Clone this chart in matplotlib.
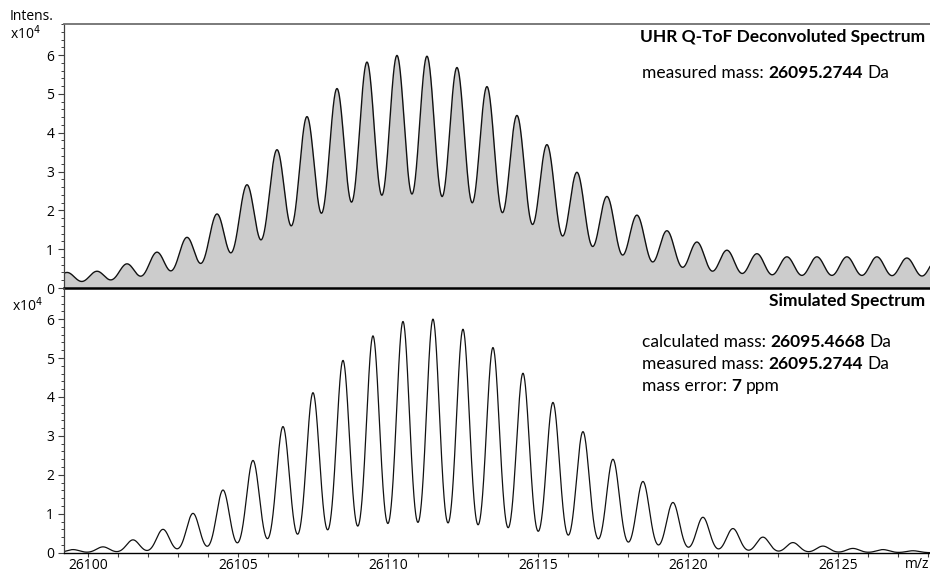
import numpy as np
import matplotlib.pyplot as plt

# measured (deconvoluted) isotope peaks, intensity in x10^4
meas_mz = [26099.3, 26100.3, 26101.3, 26102.3, 26103.3, 26104.3, 26105.3, 26106.3,
           26107.3, 26108.3, 26109.3, 26110.3, 26111.3, 26112.3, 26113.3, 26114.3,
           26115.3, 26116.3, 26117.3, 26118.3, 26119.3, 26120.3, 26121.3, 26122.3,
           26123.3, 26124.3, 26125.3, 26126.3, 26127.3, 26128.3]
meas_int = [0.40, 0.43, 0.62, 0.92, 1.30, 1.90, 2.65, 3.55, 4.40, 5.12, 5.80, 5.97,
            5.95, 5.66, 5.17, 4.43, 3.68, 2.97, 2.35, 1.87, 1.47, 1.18, 0.97, 0.88,
            0.80, 0.80, 0.80, 0.80, 0.77, 0.75]

# simulated isotope pattern
sim_mz = [26099.5, 26100.5, 26101.5, 26102.5, 26103.5, 26104.5, 26105.5, 26106.5,
          26107.5, 26108.5, 26109.5, 26110.5, 26111.5, 26112.5, 26113.5, 26114.5,
          26115.5, 26116.5, 26117.5, 26118.5, 26119.5, 26120.5, 26121.5, 26122.5,
          26123.5, 26124.5, 26125.5, 26126.5, 26127.5]
sim_int = [0.08, 0.15, 0.33, 0.60, 1.01, 1.61, 2.37, 3.24, 4.11, 4.94, 5.57, 5.94,
           6.00, 5.74, 5.27, 4.61, 3.86, 3.11, 2.40, 1.83, 1.29, 0.91, 0.62, 0.40,
           0.26, 0.17, 0.11, 0.08, 0.05]

x_ticks = [26100, 26105, 26110, 26115, 26120, 26125]
y_ticks = [0, 1, 2, 3, 4, 5, 6]

W, H = 930, 572
xmin, xmax = 26099.2, 26128.07


def profile(x, centers, heights, sigma):
    # sum of gaussian peak shapes
    c = np.array(centers)[:, None]
    h = np.array(heights)[:, None]
    return (h * np.exp(-0.5 * ((x[None, :] - c) / sigma) ** 2)).sum(axis=0)


x = np.linspace(xmin, xmax, 4000)
y_meas = profile(x, meas_mz, meas_int, 0.28)
y_sim = profile(x, sim_mz, sim_int, 0.214)

tick_font = 'Open Sans'
txt_font = 'Lato'
tick_size = 10

fig = plt.figure(figsize=(W / 100, H / 100), dpi=100)
ax1 = fig.add_axes([64 / W, 1 - 288 / H, (W - 64) / W, (288 - 24) / H])
ax2 = fig.add_axes([64 / W, 1 - 552.7 / H, (W - 64) / W, (552.7 - 288) / H])
ax2.patch.set_visible(False)

ax1.fill_between(x, y_meas, 0, color='#cccccc', lw=0)
ax1.plot(x, y_meas, color='#111111', lw=1.0)
ax2.plot(x, y_sim, color='#111111', lw=0.9)

ax1.set_ylim(0, 6.58)
ax2.set_ylim(0, 6.8)

for ax in (ax1, ax2):
    ax.set_xlim(xmin, xmax)
    ax.set_yticks(y_ticks)
    ax.set_yticks(np.arange(0, 6.81, 0.2), minor=True)
    ax.spines['right'].set_visible(False)
    ax.spines['left'].set_color('#404040')
    ax.spines['left'].set_linewidth(0.9)
    ax.tick_params(axis='y', which='major', length=4, width=0.8, color='#404040',
                   pad=3, labelsize=tick_size)
    ax.tick_params(axis='y', which='minor', length=2, width=0.7, color='#404040')
    for lab in ax.get_yticklabels():
        lab.set_fontfamily(tick_font)

ax1.spines['top'].set_color('#707070')
ax1.spines['top'].set_linewidth(1.3)
ax1.spines['bottom'].set_color('black')
ax1.spines['bottom'].set_linewidth(1.8)
ax1.tick_params(axis='x', which='both', bottom=False, labelbottom=False)

ax2.spines['top'].set_visible(False)
ax2.spines['bottom'].set_color('black')
ax2.spines['bottom'].set_linewidth(1.0)
ax2.set_xticks(x_ticks)
ax2.set_xticklabels([str(v) for v in x_ticks], fontfamily=tick_font)
ax2.set_xticks(np.arange(26100, 26129, 1), minor=True)
ax2.tick_params(axis='x', which='both', length=3, width=0.8, color='#404040',
                labelsize=tick_size, pad=0.5)

fig.text(10 / W, 1 - 16 / H, 'Intens.', fontsize=tick_size, family=tick_font, va='center')
fig.text(10 / W, 1 - 34 / H, 'x10$^4$', fontsize=tick_size, family=tick_font, va='center')
fig.text(12 / W, 1 - 306 / H, 'x10$^4$', fontsize=tick_size, family=tick_font, va='center')
fig.text(917 / W, 1 - 564 / H, 'm/z', fontsize=tick_size, family=tick_font,
         va='center', ha='center')


def rich(ax, px, py, parts, size=12.5):
    # parts: (text, bold) pieces, each placed right after the previous one
    prev = fig.text(px / W, 1 - py / H, parts[0][0], fontsize=size, family=txt_font,
                    fontweight='bold' if parts[0][1] else 'normal', va='center')
    for s, bold in parts[1:]:
        prev = ax.annotate(s, xy=(1, 0), xycoords=prev, xytext=(size * 0.26, 0),
                           textcoords='offset points', va='bottom', ha='left',
                           fontsize=size, family=txt_font,
                           fontweight='bold' if bold else 'normal', annotation_clip=False)


fig.text(925 / W, 1 - 37 / H, 'UHR Q-ToF Deconvoluted Spectrum', fontsize=12.5,
         family=txt_font, fontweight='bold', ha='right', va='center')
rich(ax1, 642, 73, [('measured mass:', False), ('26095.2744', True), ('Da', False)])

fig.text(925 / W, 1 - 301 / H, 'Simulated Spectrum', fontsize=12.5,
         family=txt_font, fontweight='bold', ha='right', va='center')
rich(ax2, 642, 342, [('calculated mass:', False), ('26095.4668', True), ('Da', False)])
rich(ax2, 642, 364, [('measured mass:', False), ('26095.2744', True), ('Da', False)])
rich(ax2, 642, 386, [('mass error:', False), ('7', True), ('ppm', False)])

fig.savefig('out.png', dpi=100)
